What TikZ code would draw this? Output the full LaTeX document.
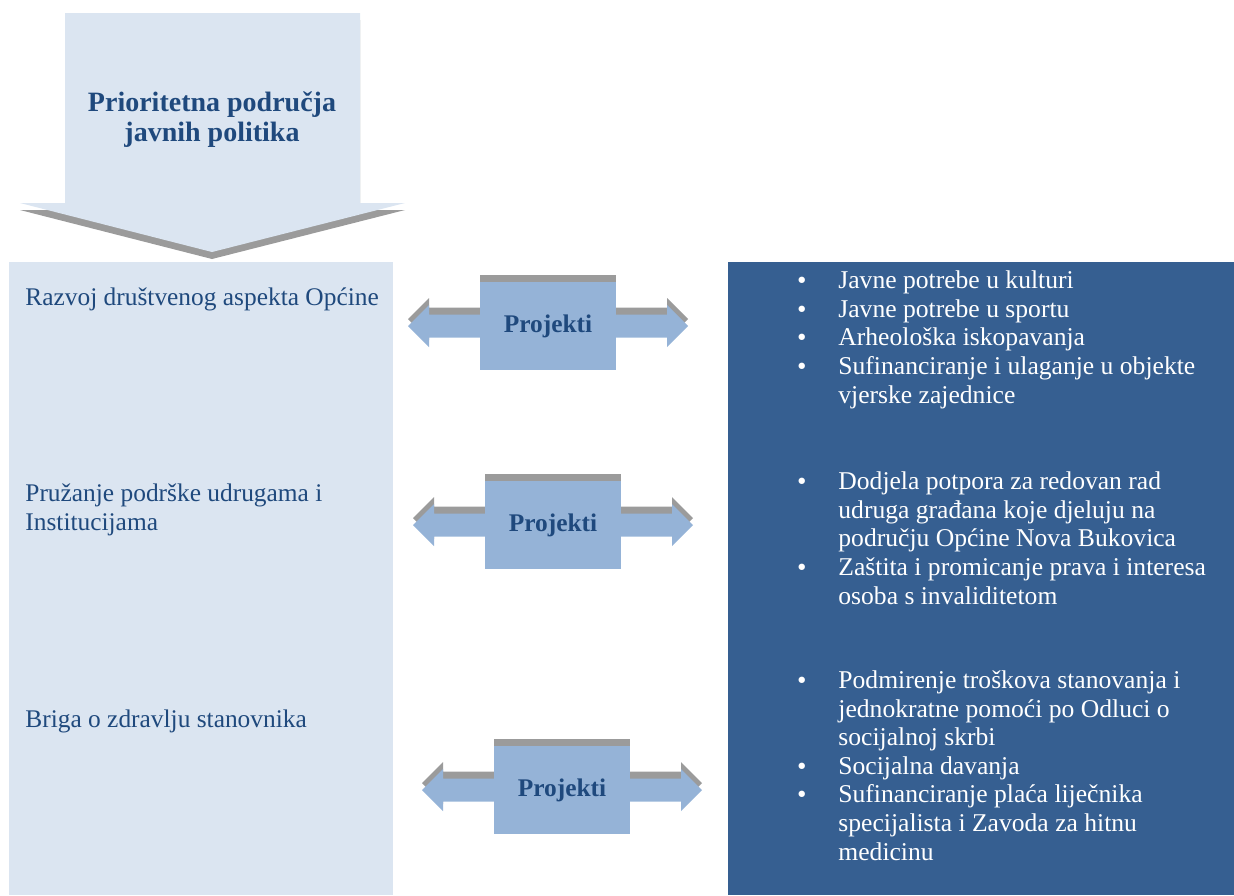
\documentclass[tikz,border=0pt]{standalone}
\usepackage{fontspec}
\setmainfont{Liberation Serif}
\newfontfamily\dotfont{DejaVu Sans}
\usetikzlibrary{positioning}

\definecolor{areafill}{HTML}{DBE5F1}
\definecolor{projfill}{HTML}{95B3D7}
\definecolor{listfill}{HTML}{365F91}
\definecolor{titleblue}{HTML}{1F497D}
\definecolor{shadowgray}{HTML}{9B9B9B}

\newcommand{\bul}{\makebox[21.5pt][l]{{\dotfont\fontsize{11}{14.3}\selectfont •}}}
\newcommand{\ind}{\hspace*{21.5pt}}

\begin{document}
\begin{tikzpicture}[x=0.5pt, y=-0.5pt,
  area/.style={font=\fontsize{12.7}{14.5}\selectfont, text=titleblue,
    align=left, inner sep=0pt, anchor=base west},
  items/.style={font=\fontsize{12.8}{14.3}\selectfont, text=white,
    align=left, inner sep=0pt, anchor=base west},
  heading/.style={font=\fontsize{14}{15}\selectfont\bfseries,
    text=titleblue, align=center, inner sep=0pt},
  projbox/.style={fill=projfill, minimum width=68pt, minimum height=44pt,
    inner sep=0pt, font=\fontsize{12.7}{14}\selectfont\bfseries, text=titleblue},
  twoway/.pic={\fill (-140,0) -- (-119,-21) -- (-119,-11.5) -- (119,-11.5)
    -- (119,-21) -- (140,0) -- (119,21) -- (119,11.5) -- (-119,11.5)
    -- (-119,21) -- cycle;}
]
\useasboundingbox (0,0) rectangle (1234,895);

% Priority arrow
\fill[shadowgray, shift={(0,7)}] (65,13) -- (360,13) -- (360,203) -- (405,203)
  -- (212,252) -- (20,203) -- (65,203) -- cycle;
\fill[areafill] (65,13) -- (360,13) -- (360,203) -- (405,203)
  -- (212,252) -- (20,203) -- (65,203) -- cycle;
\node[heading] (title) at (212,120) {Prioritetna područja\\javnih politika};

% Panels
\fill[areafill] (9,262) rectangle (393,895);
\fill[listfill] (728,262) rectangle (1234,895);

% Priority areas (base = last line)
\node[area] (social) at (25,305) {Razvoj društvenog aspekta Općine};
\node[area] (assoc) at (25,530) {Pružanje podrške udrugama i\\Institucijama};
\node[area] (health) at (25,727) {Briga o zdravlju stanovnika};

% Projects
\foreach \cx/\cy/\nm in {548/326/projA, 553/525/projB, 562/790/projC} {
  \pic[fill=shadowgray] at (\cx,\cy-7) {twoway};
  \pic[fill=projfill] at (\cx,\cy) {twoway};
  \fill[shadowgray] (\cx-68,\cy-51) rectangle (\cx+68,\cy+37);
  \node[projbox] (\nm) at (\cx,\cy) {Projekti};
}

% Project lists (base = last line)
\node[items] (cultureList) at (795,403) {\bul Javne potrebe u kulturi\\
  \bul Javne potrebe u sportu\\
  \bul Arheološka iskopavanja\\
  \bul Sufinanciranje i ulaganje u objekte\\
  \ind vjerske zajednice};
\node[items] (assocList) at (795,604) {\bul Dodjela potpora za redovan rad\\
  \ind udruga građana koje djeluju na\\
  \ind području Općine Nova Bukovica\\
  \bul Zaštita i promicanje prava i interesa\\
  \ind osoba s invaliditetom};
\node[items] (healthList) at (795,860) {\bul Podmirenje troškova stanovanja i\\
  \ind jednokratne pomoći po Odluci o\\
  \ind socijalnoj skrbi\\
  \bul Socijalna davanja\\
  \bul Sufinanciranje plaća liječnika\\
  \ind specijalista i Zavoda za hitnu\\
  \ind medicinu};

\end{tikzpicture}
\end{document}
